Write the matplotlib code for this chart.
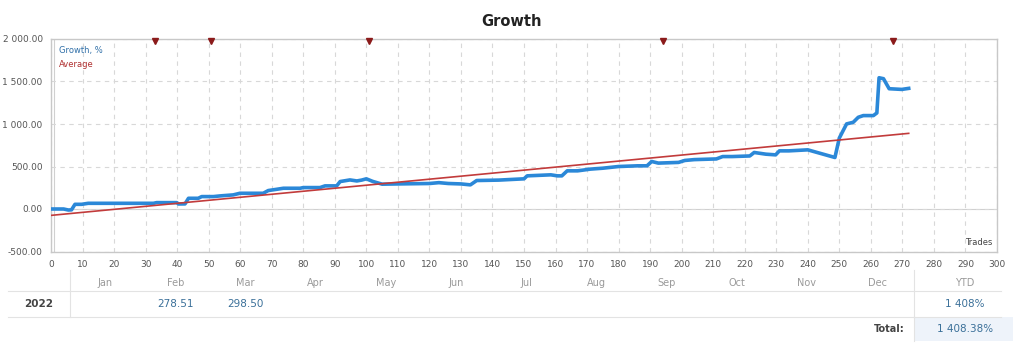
import matplotlib.pyplot as plt
from matplotlib.lines import Line2D
from matplotlib.patches import Rectangle
from matplotlib.ticker import FuncFormatter

# growth curve (trade number, growth %)
trades = [0, 4, 5.5, 6.5, 7.6, 9.7, 11.8, 32.5, 33.5, 39.9, 40.4, 42.5, 43.6, 46.7, 47.8,
          51.5, 53.6, 57.8, 59.9, 67.3, 68.9, 71.6, 73.7, 79, 80, 85.3, 86.9, 90.6, 91.7,
          94.8, 97, 98.5, 100, 102, 105, 110, 120, 123, 126, 130, 133, 135, 142, 150, 151,
          158.5, 160.6, 162, 163.7, 167, 171, 175, 180, 186, 189, 190.5, 192.6, 199, 201,
          204, 211, 213, 216, 221.6, 223, 226.7, 229.8, 231, 234, 240, 248.6, 250, 252.3,
          254.4, 256, 257.6, 260.8, 261.9, 262.6, 264, 265.8, 269.8, 272]
growth = [0, 0, -12, -10, 55, 55, 67, 67, 75, 75, 59, 60, 126, 126, 146,
          146, 154, 166, 185, 185, 217, 232, 244, 244, 252, 252, 272, 272, 323,
          342, 330, 340, 355, 325, 292, 295, 300, 310, 300, 295, 284, 335, 340, 355, 390,
          402, 390, 390, 449, 449, 469, 480, 500, 508, 508, 559, 540, 548, 571,
          581, 589, 617, 617, 624, 665, 645, 637, 684, 684, 696, 606, 835, 1001,
          1020, 1079, 1099, 1099, 1130, 1544, 1533, 1415, 1407, 1419]

avg_x = [0, 272]
avg_y = [-75, 890]

marker_trades = [33, 50.7, 101, 194, 267]

months = ['Jan', 'Feb', 'Mar', 'Apr', 'May', 'Jun', 'Jul', 'Aug', 'Sep', 'Oct', 'Nov', 'Dec']
month_values = {'Feb': '278.51', 'Mar': '298.50'}
year = '2022'
ytd = '1 408%'
total = '1 408.38%'

W, H = 1024, 351
fig = plt.figure(figsize=(W / 100, H / 100), dpi=100)
ax = fig.add_axes([51 / W, 1 - 251.5 / H, 946 / W, 212.5 / H])

ax.plot(trades, growth, color='#2b88d8', linewidth=2.6, solid_joinstyle='round', zorder=3)
ax.plot(avg_x, avg_y, color='#c23b3b', linewidth=1.2, zorder=4)
ax.plot(marker_trades, [1975] * len(marker_trades), 'v', color='#8b1a1a',
        markersize=4.5, clip_on=False, zorder=5)

ax.set_xlim(0, 300)
ax.set_ylim(-500, 2000)
ax.set_xticks(range(0, 301, 10))
ax.set_yticks(range(-500, 2001, 500))
ax.yaxis.set_major_formatter(FuncFormatter(lambda v, p: f'{v:,.2f}'.replace(',', ' ')))
ax.grid(True, color='#d8d8d8', linestyle=(0, (4, 4)), linewidth=0.8)
ax.axhline(0, color='#d0d0d0', linewidth=0.8, zorder=1)
ax.axvline(0.9, color='#d0d0d0', linewidth=0.8, zorder=1)
ax.tick_params(length=0, labelsize=6.5, labelcolor='#555555', pad=6)
for s in ax.spines.values():
    s.set_color('#c8c8c8')
    s.set_linewidth(1.0)

ax.text(0.008, 0.965, 'Growth, %', transform=ax.transAxes, fontsize=6, color='#2f6fa8', va='top')
ax.text(0.008, 0.9, 'Average', transform=ax.transAxes, fontsize=6, color='#b03030', va='top')
ax.text(0.995, 0.02, 'Trades', transform=ax.transAxes, fontsize=6, color='#444444',
        ha='right', va='bottom')

fig.text(512 / W, 1 - 21 / H, 'Growth', ha='center', va='center', fontsize=10.5,
         fontweight='bold', color='#222222')

# monthly table
def fy(py):
    return 1 - py / H

for yy in (291, 317):
    fig.add_artist(Line2D([8 / W, 1001 / W], [fy(yy), fy(yy)], color='#e3e3e3', linewidth=0.8))
for xx in (70, 914):
    fig.add_artist(Line2D([xx / W, xx / W], [fy(270), fy(317)], color='#e3e3e3', linewidth=0.8))
fig.add_artist(Line2D([914 / W, 914 / W], [fy(317), fy(341)], color='#e3e3e3', linewidth=0.8))
fig.add_artist(Rectangle((914 / W, fy(341)), 99 / W, 24 / H, transform=fig.transFigure,
                         facecolor='#eef3fa', edgecolor='none'))

for i, m in enumerate(months):
    x = (105 + i * 70.2) / W
    fig.text(x, fy(283), m, ha='center', va='center', fontsize=7, color='#9a9a9a')
    if m in month_values:
        fig.text(x, fy(304), month_values[m], ha='center', va='center', fontsize=7.5,
                 color='#3b7099')
fig.text(965 / W, fy(283), 'YTD', ha='center', va='center', fontsize=7, color='#9a9a9a')
fig.text(39 / W, fy(304), year, ha='center', va='center', fontsize=7.5, fontweight='bold',
         color='#444444')
fig.text(965 / W, fy(304), ytd, ha='center', va='center', fontsize=7.5, color='#3b7099')
fig.text(905 / W, fy(329), 'Total:', ha='right', va='center', fontsize=7, fontweight='bold',
         color='#444444')
fig.text(965 / W, fy(329), total, ha='center', va='center', fontsize=7.5, color='#3b7099')

fig.savefig('out.png', dpi=100)
